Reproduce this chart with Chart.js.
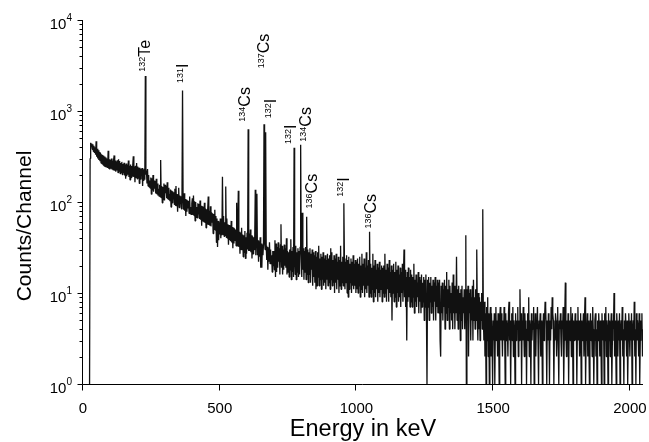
<!DOCTYPE html>
<html><head><meta charset="utf-8">
<script src="https://cdn.jsdelivr.net/npm/chart.js@4.4.1/dist/chart.umd.min.js"></script>
<style>html,body{margin:0;padding:0;background:#fff;}#wrap{width:649px;height:442px;}</style>
</head><body><div id="wrap"><canvas id="c" width="649" height="442"></canvas></div>
<script>
// Gamma spectrum, counts per channel (channel width in keV below)
const keVPerChannel = 2;
const counts = [
 // 0-98 keV
 null,null,null,null,null,null,null,null,null,null,null,null,1,300,448,405,440,380,430,360,415,345,400,330,465,315,385,300,370,290,355,280,345,268,335,262,328,255,322,248,315,245,308,240,300,236,365,232,295,228,
 // 100-198
 290,232,300,228,285,225,292,325,220,285,215,278,222,288,210,295,218,282,205,268,212,276,200,262,208,270,196,258,180,265,192,255,200,285,188,250,175,258,185,248,192,255,318,188,245,165,250,186,268,180,
 // 200-298
 245,184,240,160,238,178,232,195,236,150,228,170,232,176,2420,200,222,160,230,150,198,146,172,142,186,122,182,134,198,130,172,140,170,124,180,122,160,118,140,116,155,114,290,112,150,98,146,106,160,104,
 // 300-398
 155,125,150,110,165,107,143,105,122,102,137,88,134,98,131,108,128,94,140,92,150,90,122,78,120,143,87,118,96,116,84,114,1680,112,82,125,80,108,70,106,78,104,86,103,75,115,74,88,73,97,
 // 400-498
 110,72,118,71,102,62,100,68,88,67,97,74,95,65,104,64,91,55,90,61,88,60,98,59,85,52,83,57,82,115,56,80,55,90,54,77,60,75,45,74,50,82,49,70,36,66,32,62,38,60,
 // 500-598
 44,66,40,64,43,190,44,70,42,60,43,148,41,66,40,57,34,56,38,55,37,62,36,53,31,52,35,51,38,50,33,98,33,48,133,32,47,27,46,30,52,30,44,25,43,28,48,24,41,27,
 // 600-698
 46,30,630,29,45,29,50,28,43,24,42,27,41,30,40,136,26,39,123,26,38,22,37,25,41,19,35,19,34,26,34,715,38,30,585,33,23,32,18,31,22,36,21,30,21,26,17,29,20,29,
 // 700-798
 18,38,15,35,17,32,19,36,22,31,16,34,57,19,33,16,30,18,34,20,31,19,40,16,29,17,28,15,30,18,39,14,29,17,32,15,395,24,16,33,14,28,17,31,15,29,16,32,425,30,
 // 800-898
 15,76,18,31,14,29,17,32,14,69,16,30,13,28,16,31,13,27,18,30,12,28,15,26,13,29,11,25,12,28,15,33,12,24,14,27,11,25,14,28,12,24,13,26,11,23,14,27,12,24,
 // 900-998
 13,26,11,31,14,28,12,23,13,26,10,24,13,27,11,22,14,25,10,23,12,33,11,22,13,25,12,97,24,11,22,13,26,10,23,9,25,11,21,13,24,10,22,12,26,11,21,12,23,10,
 // 1000-1098
 22,11,24,10,21,12,25,9,20,11,27,10,21,12,24,9,19,11,28,10,20,12,23,9,47,10,21,9,19,11,27,8,20,10,23,9,18,11,21,8,19,10,22,9,18,11,20,8,19,10,
 // 1100-1198
 20,9,27,10,18,8,21,11,19,8,23,10,17,9,20,5,18,10,21,8,17,9,22,7,18,10,20,8,16,9,19,7,17,10,21,8,16,30,9,18,7,15,3,17,8,19,9,15,7,18,
 // 1200-1298
 8,16,7,15,9,21,6,14,8,16,7,13,9,17,6,15,8,14,6,16,7,13,8,15,5,14,7,16,6,1,14,7,15,5,13,8,15,6,12,7,14,5,13,8,15,5,12,7,14,6,
 // 1300-1398
 13,6,14,3,2,12,6,13,5,11,7,14,4,12,6,17,5,11,7,14,4,12,6,10,5,13,4,16,6,12,4,10,6,25,5,11,4,12,6,10,3,11,5,12,4,9,6,11,4,10,
 // 1400-1498
 43,1,11,5,12,2,10,6,11,3,9,5,12,3,14,5,9,4,11,5,30,6,3,10,4,9,3,8,5,10,4,83,6,3,8,2,6,1,7,3,9,2,6,1,5,7,2,6,3,1,
 // 1500-1598
 5,3,6,1,4,7,3,5,2,6,4,1,5,7,3,6,4,2,5,3,7,4,1,6,3,5,4,2,6,8,3,5,1,4,6,3,7,2,5,4,1,6,3,5,4,7,2,5,3,11,
 // 1600-1698
 4,6,1,5,3,7,4,2,6,3,5,1,4,6,3,9,2,5,4,1,6,3,5,4,7,1,3,6,2,5,4,7,3,1,5,4,6,2,3,5,1,4,6,3,5,8,7,4,1,5,
 // 1700-1798
 3,6,4,1,5,3,7,4,9,6,5,1,4,3,6,5,2,4,7,3,1,5,4,6,3,2,5,4,7,1,3,6,13,4,2,5,3,6,1,4,5,3,7,2,4,6,1,5,3,4,
 // 1800-1898
 6,3,5,1,4,7,3,5,2,4,6,1,5,3,4,6,2,5,9,1,3,4,6,2,5,3,1,4,6,3,5,2,7,4,1,3,5,6,2,4,1,5,3,6,4,2,5,3,1,6,
 // 1900-1998
 3,5,4,1,6,3,7,2,5,4,1,6,3,5,2,4,6,1,3,5,4,10,2,5,3,1,6,4,2,5,3,6,1,4,5,3,7,2,4,1,5,3,6,4,2,5,1,3,6,4,
 // 2000-2048
 2,5,3,6,1,4,5,3,8,2,4,1,6,3,5,4,2,6,1,3,5,4,6,2,4
];
const xTickValues = [0, 500, 1000, 1500, 2000];
const yDecades = [0, 1, 2, 3, 4];
// Peak annotations
const peakMass   = ['132','131','134','137','132','132','134','136','132','136'];
const peakElem   = ['Te','I','Cs','Cs','I','I','Cs','Cs','I','Cs'];
const peakEnergy = [228, 364, 604, 662, 668, 772, 796, 818, 954, 1048];
const labelStartCounts = [2700, 2030, 763, 2946, 832, 434, 460, 85, 114, 51];
const labelShiftPx = [-1, 0, -4, -1, 5, -4, 4.5, 5, -1, 1];

const points = counts.map((v, i) => ({x: i * keVPerChannel, y: v}));

const FONT = '"Liberation Sans", Arial, sans-serif';
const decor = {
  id: 'decor',
  afterDraw(chart) {
    const ctx = chart.ctx, xs = chart.scales.x, ys = chart.scales.y, a = chart.chartArea;
    ctx.save();
    ctx.strokeStyle = '#000'; ctx.fillStyle = '#000'; ctx.lineWidth = 1;
    const L = Math.round(a.left) - 0.5, B = Math.round(a.bottom) + 0.5;
    ctx.beginPath();
    ctx.moveTo(L, Math.round(a.top)); ctx.lineTo(L, B);
    ctx.lineTo(Math.round(a.right), B);
    ctx.stroke();
    ctx.beginPath();
    for (let d = 0; d < yDecades.length; d++) {
      const base = Math.pow(10, yDecades[d]);
      const yp = Math.round(ys.getPixelForValue(base)) + 0.5;
      ctx.moveTo(L, yp); ctx.lineTo(L - 5, yp);
      if (d < yDecades.length - 1) {
        for (let m = 2; m <= 9; m++) {
          const ym = Math.round(ys.getPixelForValue(base * m)) + 0.5;
          ctx.moveTo(L, ym); ctx.lineTo(L - 3, ym);
        }
      }
    }
    xTickValues.forEach(v => {
      const xp = Math.round(xs.getPixelForValue(v)) - 0.5;
      ctx.moveTo(xp, B); ctx.lineTo(xp, B + 6);
    });
    ctx.stroke();
    ctx.font = '15px ' + FONT; ctx.textAlign = 'center'; ctx.textBaseline = 'alphabetic';
    xTickValues.forEach(v => ctx.fillText(String(v), xs.getPixelForValue(v), 412.5));
    yDecades.forEach(n => {
      const yp = ys.getPixelForValue(Math.pow(10, n));
      ctx.font = '10px ' + FONT; ctx.textAlign = 'right';
      const sup = String(n);
      const sw = ctx.measureText(sup).width;
      ctx.fillText(sup, 72, yp + 1);
      ctx.font = '15px ' + FONT;
      ctx.fillText('10', 72 - sw, yp + 8.5);
    });
    ctx.font = '23.5px ' + FONT; ctx.textAlign = 'center';
    ctx.fillText('Energy in keV', (a.left + a.right) / 2, 436);
    ctx.font = '21px ' + FONT;
    ctx.save();
    ctx.translate(31, 226); ctx.rotate(-Math.PI / 2);
    ctx.fillText('Counts/Channel', 0, 0);
    ctx.restore();
    peakEnergy.forEach((e, i) => {
      const xc = xs.getPixelForValue(e) + labelShiftPx[i];
      const yb = ys.getPixelForValue(labelStartCounts[i]);
      ctx.save();
      ctx.translate(xc, yb); ctx.rotate(-Math.PI / 2);
      ctx.textAlign = 'left';
      ctx.font = '9px ' + FONT;
      ctx.fillText(peakMass[i], 0, 0.5);
      const mw = ctx.measureText(peakMass[i]).width;
      ctx.font = '16px ' + FONT;
      ctx.fillText(peakElem[i], mw, 5.7);
      ctx.restore();
    });
    ctx.restore();
  }
};

new Chart(document.getElementById('c'), {
  type: 'line',
  data: { datasets: [{
    data: points, borderColor: '#111', borderWidth: 1.3, pointRadius: 0,
    tension: 0, borderJoinStyle: 'bevel', spanGaps: false
  }]},
  options: {
    responsive: false, animation: false, devicePixelRatio: 1,
    layout: { padding: { left: 83, right: 6, top: 20, bottom: 58 } },
    plugins: { legend: { display: false }, tooltip: { enabled: false } },
    scales: {
      x: { type: 'linear', min: 0, max: 2048, display: false },
      y: { type: 'logarithmic', min: 1, max: 10000, display: false }
    }
  },
  plugins: [decor]
});
</script></body></html>
